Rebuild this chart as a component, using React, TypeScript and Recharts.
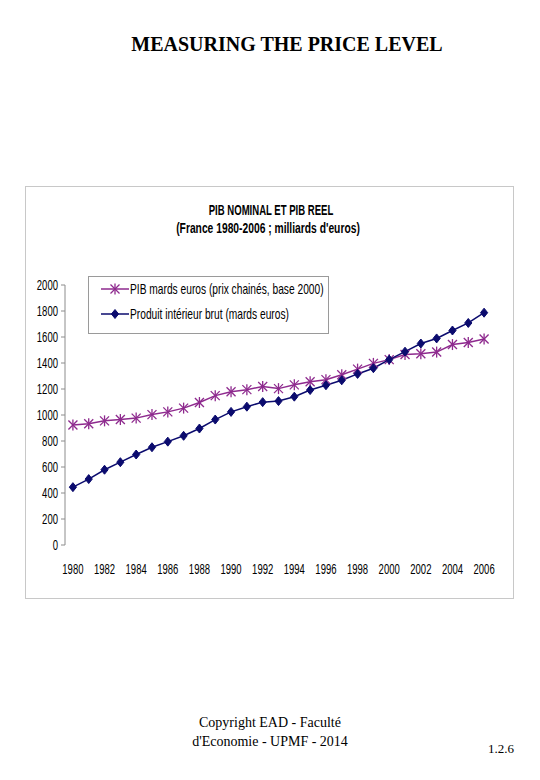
import React from 'react';
import {Legend, Line, LineChart, XAxis, YAxis} from 'recharts';

const years = [
  1980, 1981, 1982, 1983, 1984, 1985, 1986, 1987, 1988, 1989, 1990, 1991, 1992, 1993,
  1994, 1995, 1996, 1997, 1998, 1999, 2000, 2001, 2002, 2003, 2004, 2005, 2006,
];
const pibReel = [
  923, 933, 955, 965, 976, 1003, 1024, 1053, 1096, 1149, 1179, 1195, 1219, 1203,
  1232, 1256, 1272, 1309, 1353, 1397, 1426, 1466, 1471, 1484, 1542, 1558, 1584,
];
const pibNominal = [
  445, 507, 579, 637, 696, 752, 795, 840, 896, 965, 1024, 1064, 1099, 1107,
  1141, 1192, 1229, 1267, 1316, 1360, 1426, 1487, 1550, 1589, 1650, 1708, 1787,
];
const yTicks = [0, 200, 400, 600, 800, 1000, 1200, 1400, 1600, 1800, 2000];
const labelYears = [1980, 1982, 1984, 1986, 1988, 1990, 1992, 1994, 1996, 1998, 2000, 2002, 2004, 2006];
const boundaryTicks = [...years.map((y) => y - 0.5), 2006.5];

const seriesNames = {
  reel: 'PIB mards euros (prix chainés, base 2000)',
  nominal: 'Produit intérieur brut (mards euros)',
};

const data = years.map((year, i) => ({
  year,
  reel: pibReel[i],
  nominal: pibNominal[i],
}));

// no Arial Narrow here, so squeeze Liberation Sans horizontally
const SANS = "'Liberation Sans', Arial, sans-serif";
const PURPLE = '#8e2a8e';
const NAVY = '#0b0b6e';

function NarrowText({x, y, anchor, children, size = 14, squeeze = 0.7, bold = false}: any) {
  return (
    <g transform={`translate(${x},${y}) scale(${squeeze},1)`}>
      <text
        x={0}
        y={0}
        textAnchor={anchor}
        fontFamily={SANS}
        fontSize={size}
        fontWeight={bold ? 'bold' : 'normal'}
        fill="#000"
      >
        {children}
      </text>
    </g>
  );
}

function XTick(props: any) {
  const {x, y, payload} = props;
  return (
    <NarrowText x={x} y={y + 15} anchor="middle" size={14} squeeze={0.68}>
      {payload.value}
    </NarrowText>
  );
}

function YTick(props: any) {
  const {x, y, payload} = props;
  return (
    <NarrowText x={x} y={y + 5} anchor="end" size={14} squeeze={0.68}>
      {payload.value}
    </NarrowText>
  );
}

function StarDot(props: any) {
  const {cx, cy} = props;
  if (cx == null || cy == null) return null;
  const r = 4.5;
  return (
    <g stroke={PURPLE} strokeWidth={1.3}>
      <line x1={cx - r} y1={cy - r} x2={cx + r} y2={cy + r} />
      <line x1={cx - r} y1={cy + r} x2={cx + r} y2={cy - r} />
      <line x1={cx} y1={cy - r - 1} x2={cx} y2={cy + r + 1} />
    </g>
  );
}

function DiamondDot(props: any) {
  const {cx, cy} = props;
  if (cx == null || cy == null) return null;
  const r = 4.5;
  return (
    <path
      d={`M${cx},${cy - r} L${cx + r * 0.8},${cy} L${cx},${cy + r} L${cx - r * 0.8},${cy} Z`}
      fill={NAVY}
      stroke={NAVY}
    />
  );
}

function ChartLegend() {
  return (
    <div
      style={{
        width: 241,
        height: 58,
        border: '1px solid #9a9a9a',
        background: '#fff',
        boxSizing: 'border-box',
      }}
    >
      <svg width={239} height={56} style={{display: 'block'}}>
        <line x1={12} y1={12} x2={40} y2={12} stroke={PURPLE} strokeWidth={1.5} />
        <StarDot cx={26} cy={12} />
        <NarrowText x={41} y={17} anchor="start" size={14} squeeze={0.73}>
          {seriesNames.reel}
        </NarrowText>
        <line x1={12} y1={37} x2={40} y2={37} stroke={NAVY} strokeWidth={1.5} />
        <DiamondDot cx={26} cy={37} />
        <NarrowText x={41} y={42} anchor="start" size={14} squeeze={0.73}>
          {seriesNames.nominal}
        </NarrowText>
      </svg>
    </div>
  );
}

export default function App() {
  return (
    <div
      style={{
        position: 'absolute',
        left: 0,
        top: 0,
        width: 540,
        height: 780,
        background: '#fff',
        fontFamily: "'Liberation Serif', 'Times New Roman', serif",
      }}
    >
      <div
        style={{
          position: 'absolute',
          top: 33,
          left: 0,
          width: 574,
          textAlign: 'center',
          fontWeight: 'bold',
          fontSize: 20,
        }}
      >
        MEASURING THE PRICE LEVEL
      </div>

      <div
        style={{
          position: 'absolute',
          left: 25,
          top: 186,
          width: 489,
          height: 413,
          border: '1px solid #c8c8c8',
          boxSizing: 'border-box',
        }}
      >
        <svg
          width={487}
          height={60}
          style={{position: 'absolute', left: 0, top: 0, display: 'block'}}
        >
          <NarrowText x={245} y={28} anchor="middle" size={14.5} squeeze={0.66} bold>
            PIB NOMINAL ET PIB REEL
          </NarrowText>
          <NarrowText x={242} y={46} anchor="middle" size={14.5} squeeze={0.71} bold>
            (France 1980-2006 ; milliards d'euros)
          </NarrowText>
        </svg>

        <LineChart
          width={487}
          height={411}
          data={data}
          margin={{top: 98, right: 21, bottom: 13, left: 0}}
          style={{position: 'absolute', left: 0, top: 0}}
        >
          <XAxis
            xAxisId="bounds"
            dataKey="year"
            type="number"
            domain={[1979.5, 2006.5]}
            ticks={boundaryTicks}
            interval={0}
            height={0}
            tick={false}
            axisLine={{stroke: '#8c8c8c'}}
            tickLine={{stroke: '#8c8c8c'}}
            tickSize={5}
          />
          <XAxis
            dataKey="year"
            type="number"
            domain={[1979.5, 2006.5]}
            ticks={labelYears}
            interval={0}
            axisLine={false}
            tickLine={false}
            tickMargin={8}
            tick={<XTick />}
            height={40}
          />
          <YAxis
            domain={[0, 2000]}
            ticks={yTicks}
            interval={0}
            width={39}
            axisLine={{stroke: '#8c8c8c'}}
            tickLine={{stroke: '#8c8c8c'}}
            tickSize={4}
            tickMargin={3}
            tick={<YTick />}
          />
          <Legend
            content={<ChartLegend />}
            layout="horizontal"
            verticalAlign="middle"
            wrapperStyle={{position: 'absolute', left: 62, top: 89, width: 241}}
          />
          <Line
            dataKey="reel"
            name={seriesNames.reel}
            stroke={PURPLE}
            strokeWidth={1.5}
            dot={<StarDot />}
            activeDot={false}
            isAnimationActive={false}
          />
          <Line
            dataKey="nominal"
            name={seriesNames.nominal}
            stroke={NAVY}
            strokeWidth={1.5}
            dot={<DiamondDot />}
            activeDot={false}
            isAnimationActive={false}
          />
        </LineChart>
      </div>

      <div
        style={{
          position: 'absolute',
          top: 713,
          left: 170,
          width: 200,
          textAlign: 'center',
          fontSize: 14,
          lineHeight: '19px',
        }}
      >
        <div>Copyright EAD - Faculté</div>
        <div>d'Economie - UPMF - 2014</div>
      </div>
      <div style={{position: 'absolute', top: 741, left: 488, fontSize: 13}}>1.2.6</div>
    </div>
  );
}
